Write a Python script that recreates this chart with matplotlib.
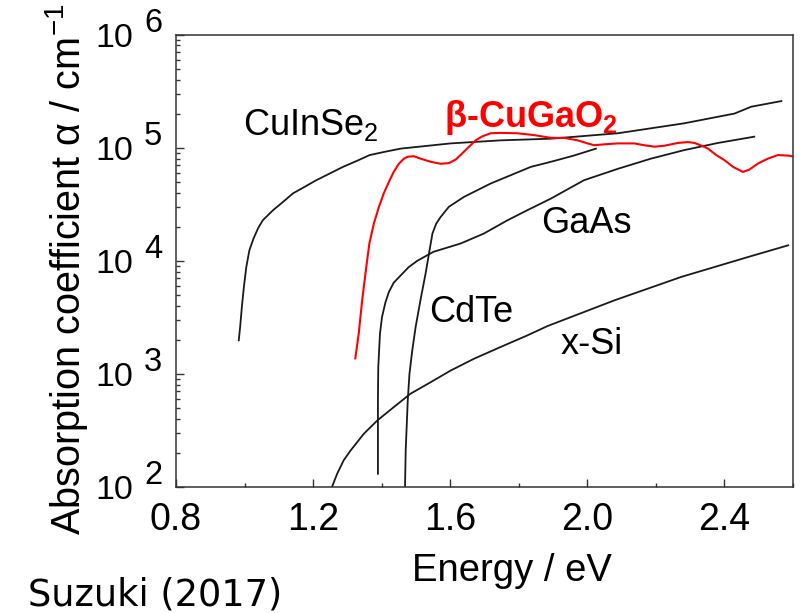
import matplotlib
matplotlib.use('Agg')
import matplotlib.pyplot as plt
from matplotlib.ticker import MultipleLocator, LogLocator, NullFormatter

plt.rcParams['font.family'] = ['Liberation Sans', 'DejaVu Sans']
plt.rcParams['mathtext.fontset'] = 'custom'
plt.rcParams['mathtext.rm'] = 'Liberation Sans'
plt.rcParams['mathtext.it'] = 'Liberation Sans:italic'
plt.rcParams['mathtext.bf'] = 'Liberation Sans:bold'

# absorption spectra, energy in eV and alpha in cm^-1
cuinse2_e = [0.983, 0.987, 0.992, 0.998, 1.005, 1.014, 1.026, 1.039, 1.053, 1.083,
             1.112, 1.141, 1.175, 1.209, 1.248, 1.287, 1.326, 1.365, 1.410, 1.455,
             1.601, 1.747, 1.894, 2.089, 2.282, 2.429, 2.478, 2.566]
cuinse2_a = [1.98e3, 2.6e3, 3.9e3, 5.9e3, 8.8e3, 1.24e4, 1.57e4, 1.93e4, 2.28e4, 2.8e4,
             3.31e4, 3.94e4, 4.5e4, 5.15e4, 5.9e4, 6.76e4, 7.6e4, 8.6e4, 9.2e4, 9.8e4,
             1.09e5, 1.16e5, 1.2e5, 1.34e5, 1.64e5, 2.0e5, 2.3e5, 2.58e5]

cugao2_e = [1.323, 1.333, 1.343, 1.355, 1.364, 1.377, 1.392, 1.406, 1.421, 1.435,
            1.450, 1.465, 1.475, 1.494, 1.513, 1.543, 1.572, 1.596, 1.616, 1.635,
            1.655, 1.674, 1.694, 1.718, 1.747, 1.796, 1.845, 1.894, 1.932, 1.972,
            2.001, 2.020, 2.049, 2.089, 2.137, 2.166, 2.196, 2.225, 2.264, 2.293,
            2.313, 2.337, 2.352, 2.376, 2.400, 2.425, 2.454, 2.473, 2.498, 2.527,
            2.556, 2.586, 2.605]
cugao2_a = [1.37e3, 2.27e3, 4.47e3, 8.8e3, 1.42e4, 2.13e4, 3.0e4, 3.94e4, 4.98e4, 6.1e4,
            7.2e4, 8.0e4, 8.3e4, 8.4e4, 8.0e4, 7.5e4, 7.2e4, 7.3e4, 7.85e4, 8.9e4,
            1.02e5, 1.16e5, 1.26e5, 1.34e5, 1.35e5, 1.34e5, 1.29e5, 1.22e5, 1.22e5, 1.16e5,
            1.09e5, 1.05e5, 1.07e5, 1.09e5, 1.09e5, 1.05e5, 1.02e5, 1.04e5, 1.10e5, 1.12e5,
            1.10e5, 1.03e5, 9.8e4, 8.6e4, 7.75e4, 6.76e4, 6.1e4, 6.4e4, 7.25e4, 8.0e4,
            8.6e4, 8.5e4, 8.3e4]

gaas_e = [1.389, 1.389, 1.390, 1.395, 1.401, 1.411, 1.421, 1.435, 1.455, 1.479,
          1.504, 1.551, 1.630, 1.698, 1.767, 1.825, 1.894, 1.990, 2.089, 2.186,
          2.282, 2.381, 2.487]
gaas_a = [131, 582, 1.15e3, 2.27e3, 3.19e3, 4.3e3, 5.3e3, 6.4e3, 7.4e3, 8.8e3,
          1.0e4, 1.2e4, 1.42e4, 1.74e4, 2.28e4, 2.8e4, 3.55e4, 5.15e4, 6.5e4, 8.0e4,
          9.5e4, 1.10e5, 1.25e5]

cdte_e = [1.468, 1.470, 1.476, 1.481, 1.489, 1.499, 1.513, 1.528, 1.538, 1.548,
          1.559, 1.572, 1.596, 1.640, 1.718, 1.835, 1.894, 1.960, 2.025]
cdte_a = [100, 210, 582, 1.0e3, 1.6e3, 2.6e3, 4.47e3, 7.7e3, 1.16e4, 1.74e4,
          2.13e4, 2.44e4, 3.0e4, 3.67e4, 4.82e4, 6.76e4, 7.5e4, 8.5e4, 9.8e4]

si_e = [1.255, 1.270, 1.289, 1.309, 1.348, 1.387, 1.435, 1.484, 1.543, 1.601,
        1.669, 1.747, 1.825, 1.884, 2.079, 2.274, 2.469, 2.586]
si_a = [100, 131, 172, 210, 296, 387, 508, 668, 845, 1.07e3,
        1.36e3, 1.73e3, 2.19e3, 2.65e3, 4.47e3, 7.2e3, 1.08e4, 1.37e4]

decades = [2, 3, 4, 5, 6]

fig = plt.figure(figsize=(8.02, 6.13), dpi=100)
ax = fig.add_axes([0.2195, 0.2055, 0.7693, 0.7382])

black = '#1a1a1a'
ax.plot(cuinse2_e, cuinse2_a, color=black, lw=1.3)
ax.plot(gaas_e, gaas_a, color=black, lw=1.3)
ax.plot(cdte_e, cdte_a, color=black, lw=1.3)
ax.plot(si_e, si_a, color=black, lw=1.3)
ax.plot(cugao2_e, cugao2_a, color='#ff0000', lw=1.5)

ax.set_yscale('log')
ax.set_xlim(0.8, 2.6)
ax.set_ylim(1e2, 1e6)

ax.xaxis.set_major_locator(MultipleLocator(0.4))
ax.xaxis.set_minor_locator(MultipleLocator(0.2))
ax.set_yticks([10.0 ** k for k in decades], labels=['10'] * len(decades))
ax.yaxis.set_minor_locator(LogLocator(base=10, subs=range(2, 10)))
ax.yaxis.set_minor_formatter(NullFormatter())

ax.tick_params(which='both', direction='in', top=False, right=False, color='#333333')
ax.tick_params(which='major', length=5.5, width=1.0)
ax.tick_params(which='minor', length=2.8, width=1.0)
ax.tick_params(axis='x', labelsize=27, pad=11)
ax.tick_params(axis='y', labelsize=24.5, pad=31)

# exponents sit beside the "10", raised
for k in decades:
    ax.annotate(str(k), xy=(0, 10.0 ** k), xycoords=('axes fraction', 'data'),
                xytext=(-10, 8), textcoords='offset points',
                ha='right', va='center', fontsize=23.5)

for s in ax.spines.values():
    s.set_linewidth(1.1)
    s.set_color('#333333')

ax.set_xlabel('Energy / eV', fontsize=27.5)
ax.xaxis.set_label_coords(0.545, -0.145)
ax.set_ylabel(r'Absorption coefficient α / cm$^{-1}$', fontsize=28.5)
ax.yaxis.set_label_coords(-0.139, 0.48)

ax.text(0.996, 1.29e5, r'CuInSe$_2$', fontsize=26, ha='left', va='baseline')
ax.text(1.581, 1.51e5, r'β-CuGaO$_\mathbf{2}$', fontsize=26, fontweight='bold',
        color='#ff0000', ha='left', va='baseline')
ax.text(1.864, 1.75e4, 'GaAs', fontsize=26, ha='left', va='baseline')
ax.text(1.537, 2.86e3, 'CdTe', fontsize=26, ha='left', va='baseline')
ax.text(1.923, 1.49e3, 'x-Si', fontsize=26, ha='left', va='baseline')

fig.text(0.035, 0.013, 'Suzuki (2017)', fontsize=26.5, family='DejaVu Sans',
         ha='left', va='baseline')

fig.savefig('out.png', dpi=100)
